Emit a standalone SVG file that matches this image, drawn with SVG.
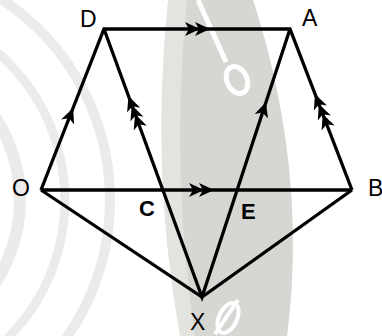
<svg xmlns="http://www.w3.org/2000/svg" width="382" height="336" viewBox="0 0 382 336">
<style>
.ln{fill:none;stroke:#000;stroke-width:3.3;stroke-linejoin:miter;stroke-miterlimit:10}
.lb{font-family:"Liberation Sans",Arial,sans-serif;font-size:23px;fill:#000}
.lbb{font-family:"Liberation Sans",Arial,sans-serif;font-size:22px;font-weight:bold;fill:#000}
.wm{fill:none;stroke:#ebebe9}
</style>
<defs>
<path id="ah" d="M0,0 L-15,-7 L-11,0 L-15,7 Z" fill="#000"/>
</defs>
<rect width="382" height="336" fill="#fff"/>
<g id="watermark">
<circle class="wm" cx="-130" cy="200" r="150" stroke-width="12"/>
<circle class="wm" cx="-130" cy="200" r="195" stroke-width="9"/>
<circle class="wm" cx="-130" cy="200" r="240" stroke-width="10"/>
<path d="M168,0 L253,0 Q308,170 287,336 L180,336 Q150,170 168,0 Z" fill="#e3e3e0"/>
<path d="M187,0 L253,0 Q308,170 287,336 L195,336 Q170,170 187,0 Z" fill="#d6d6d2"/>
<path d="M198,0 L226,62" stroke="#fff" stroke-width="5" fill="none"/>
<ellipse cx="237" cy="80" rx="10" ry="14" transform="rotate(-25 237 80)" stroke="#fff" stroke-width="5" fill="none"/>
<ellipse cx="228" cy="318" rx="9" ry="16" transform="rotate(25 228 318)" stroke="#fff" stroke-width="4" fill="none"/>
<path d="M215,334 L238,300" stroke="#fff" stroke-width="4" fill="none"/>
</g>
<g id="connectors">
<path class="ln" d="M41,190 L104,29 L290,29 L352,190"/>
<path class="ln" d="M41,190 L352,190"/>
<path class="ln" d="M41,190 L202,297 L352,190"/>
<path class="ln" d="M104,29 L202,297 L290,29"/>
<use href="#ah" transform="translate(200,29)"/>
<use href="#ah" transform="translate(210,29)"/>
<use href="#ah" transform="translate(204,190)"/>
<use href="#ah" transform="translate(214,190)"/>
<use href="#ah" transform="translate(73.1,108) rotate(-68.6)"/>
<use href="#ah" transform="translate(266,102) rotate(-71.8)"/>
<use href="#ah" transform="translate(128.5,96) rotate(-110.1)"/>
<use href="#ah" transform="translate(131.8,105) rotate(-110.1)"/>
<use href="#ah" transform="translate(135.1,114) rotate(-110.1)"/>
<use href="#ah" transform="translate(315,94) rotate(-111.1)"/>
<use href="#ah" transform="translate(318.9,104) rotate(-111.1)"/>
<use href="#ah" transform="translate(322.7,114) rotate(-111.1)"/>
</g>
<g id="node-D"><text class="lb" x="80" y="27">D</text></g>
<g id="node-A"><text class="lb" x="302" y="26">A</text></g>
<g id="node-O"><text class="lb" x="12" y="196">O</text></g>
<g id="node-B"><text class="lb" x="368" y="196">B</text></g>
<g id="node-C"><text class="lbb" x="139" y="216">C</text></g>
<g id="node-E"><text class="lbb" x="241" y="219">E</text></g>
<g id="node-X"><text class="lb" x="190" y="330">X</text></g>
</svg>
